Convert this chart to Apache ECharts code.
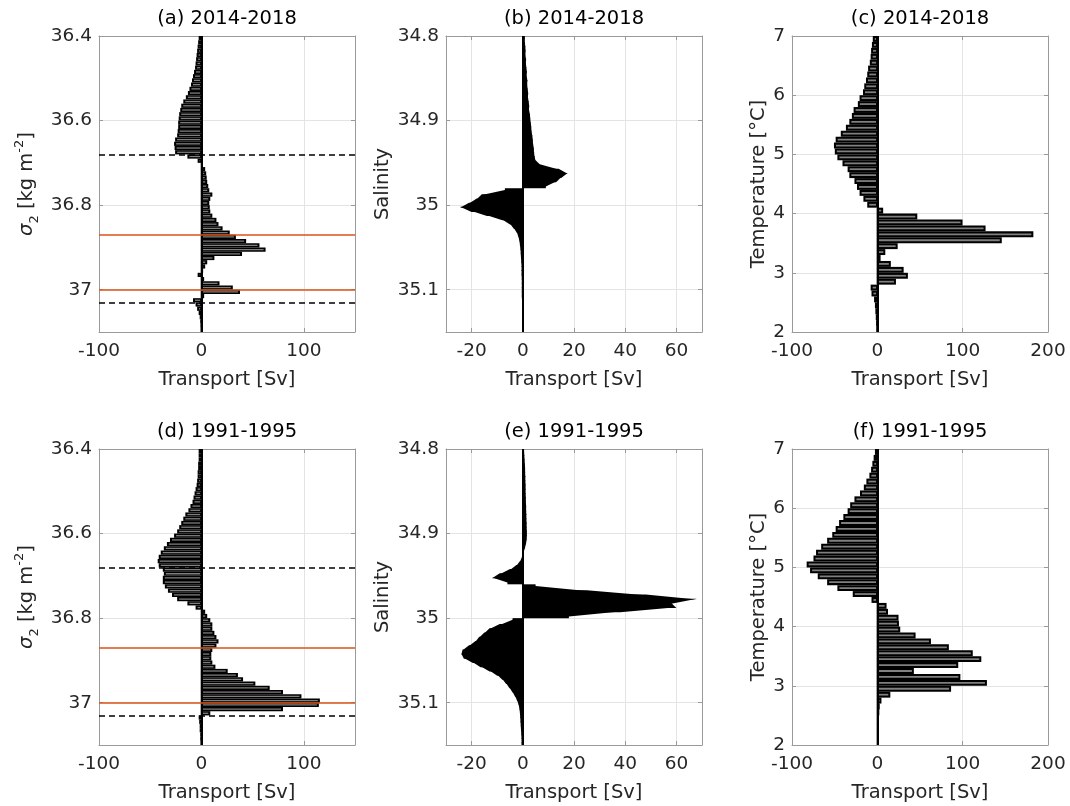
<!DOCTYPE html>
<html>
<head>
<meta charset="utf-8">
<script src="https://cdn.jsdelivr.net/npm/echarts@6.0.0/dist/echarts.min.js"></script>
<style>
html, body { margin: 0; padding: 0; background: #fff; }
#main { width: 1070px; height: 806px; }
</style>
</head>
<body>
<div id="main"></div>
<script>
"use strict";
// histogram bins: sigma2 0.01 from 36.4 (down), salinity 0.005 from 34.8 (down), temperature 0.1 from 7 (down)
const sigmaStart = 36.4, sigmaStep = 0.01;
const salStart = 34.8, salStep = 0.005;
const tempTop = 7, tempStep = 0.1;

// transport per bin [Sv], top of the axis first
const sigmaA = [-2, -2.5, -3, -3.5, -4, -4.5, -5, -5.5, -6.5, -7.5,
  -8.5, -9.5, -11, -12.5, -14.5, -17, -19, -20, -21, -21.5,
  -22, -22, -22.5, -23, -25, -26, -25.5, -25, -13, -3,
  0.5, 3, 4, 4.5, 5, 6, 7, 10, 8, 7,
  7.5, 8, 10, 14, 16, 20, 27, 33, 43, 56,
  62, 39, 12, 5, 3, 1, -3, 2, 17, 30,
  37, 2, -7.5, -5, -3.5, -2, -1, -0.5, -0.3, -0.2];
const sigmaD = [-2, -2, -2, -2.5, -2.5, -3, -3, -3.5, -4, -5,
  -6, -7, -8, -10, -12, -15, -17, -19, -21, -23,
  -26, -30, -33, -36, -39, -41, -42, -41, -37, -36,
  -37, -37, -35, -32, -28, -23, -13, -5, 3, 5,
  8, 10, 10, 12, 14, 16, 14, 10, 9, 9,
  10, 13, 25, 35, 40, 52, 66, 79, 97, 115,
  114, 79, 8, -2, -1.5, -1, -1, -0.5, -0.5, -0.3];
const salB = [0.8, 0.8, 1.0, 1.1, 1.0, 1.3, 1.2, 1.4, 1.6, 1.5,
  1.8, 1.7, 1.9, 2.1, 2.0, 2.3, 2.5, 2.4, 2.8, 2.9,
  3.1, 3.3, 3.4, 3.7, 3.9, 4.0, 4.3, 4.4, 4.6, 5.0,
  7, 14, 17.5, 15, 13, 9, -7, -16, -18, -21,
  -24.5, -20, -14, -8, -5, -3.5, -2.3, -1.7, -1.3, -1.1,
  -0.9, -0.8, -0.7, -0.6, -0.5, -0.5, -0.5, -0.4, -0.4, -0.4,
  -0.4, -0.4, -0.3, -0.3, -0.3, -0.3, -0.3, -0.3, -0.3, -0.3];
const salE = [0.5, 0.6, 0.7, 0.8, 0.9, 0.9, 1.0, 1.0, 1.1, 1.1,
  1.1, 1.2, 1.2, 1.3, 1.3, 1.4, 1.4, 1.5, 1.5, 1.6,
  1.6, 1.5, 1.2, 0.8, 0.3, -0.3, -1, -2.5, -5, -9,
  -12, -6, 5, 25, 48, 68, 58, 60, 38, 18,
  -4, -9, -13, -15, -17, -18.5, -21, -23.5, -24, -23,
  -19.5, -16.5, -13, -10, -8, -6.5, -5.2, -4, -3, -2.2,
  -1.6, -1.3, -1.1, -1.0, -0.9, -0.8, -0.7, -0.6, -0.5, -0.5];
const tempC = [-4.5, -5.5, -6.5, -7, -8, -10, -11, -12.5, -14.5, -16,
  -20, -22, -27, -29, -32, -36, -42, -48, -50, -49,
  -46, -40, -34, -32, -26, -23, -20, -15.5, -11, 6,
  46, 99, 126, 182, 145, 23, 8.5, 3, 15, 30,
  35, 21, -7, -6, -3, -2, -1.5, -1, -0.7, -0.5];
const tempF = [-2, -3.5, -5, -6.5, -8.5, -12, -15, -19.5, -26, -31,
  -34, -39, -44, -48, -52, -58, -65, -71, -74, -82,
  -78, -69, -58, -46, -28, -6, 10, 11.7, 24, 24.5,
  26, 44, 62, 83, 111, 121, 94, 42, 96.5, 127.6,
  85.6, 14.4, 4, 2, 1.5, 1, 1, 1, 1, 1];

const sigmaTicks = [36.4, 36.6, 36.8, 37];
const salTicks = [34.8, 34.9, 35, 35.1];
const tempTicks = [2, 3, 4, 5, 6, 7];
const sigmaXTicks = [-100, 0, 100];
const salXTicks = [-20, 0, 20, 40, 60];
const tempXTicks = [-100, 0, 100, 200];
const dashedLevels = [36.68, 37.03];
const orangeLevels = [36.87, 37.0];
const titles = ['(a) 2014-2018', '(b) 2014-2018', '(c) 2014-2018',
  '(d) 1991-1995', '(e) 1991-1995', '(f) 1991-1995'];

const FONT = "'DejaVu Sans', sans-serif";
const TXT = '#262626';
const BOX = '#9a9a9a';
const GRIDC = '#e4e4e4';

const kinds = {
  sigma: {
    yMin: 36.4, yMax: 37.1, inverse: true, yTicks: sigmaTicks,
    xMin: -100, xMax: 150, xTicks: sigmaXTicks, hatched: true,
    yName: '{i|σ}{sub|2}{n| [kg m}{sup|-2}{n|]}', nameGap: 58
  },
  sal: {
    yMin: 34.8, yMax: 35.15, inverse: true, yTicks: salTicks,
    xMin: -30, xMax: 70, xTicks: salXTicks, hatched: false,
    yName: 'Salinity', nameGap: 53
  },
  temp: {
    yMin: 2, yMax: 7, inverse: false, yTicks: tempTicks,
    xMin: -100, xMax: 200, xTicks: tempXTicks, hatched: true,
    yName: 'Temperature [°C]', nameGap: 20
  }
};

// one item per bin: [transport, lower edge, upper edge]
function binsDown(values, start, step) {
  return values.map((v, i) => [v, +(start + i * step).toFixed(4), +(start + (i + 1) * step).toFixed(4)]);
}
function binsFromTop(values, top, step) {
  return values.map((v, i) => [v, +(top - (i + 1) * step).toFixed(4), +(top - i * step).toFixed(4)]);
}
// fine salinity bins drawn as a filled outline: one piece between neighbouring bin centres
function outlinePieces(values, start, step) {
  const knots = [[values[0], start]];
  values.forEach((v, i) => knots.push([v, start + (i + 0.5) * step]));
  knots.push([values[values.length - 1], start + values.length * step]);
  const pieces = [];
  for (let i = 0; i < knots.length - 1; i++) {
    pieces.push([knots[i][0], +knots[i][1].toFixed(5), knots[i + 1][0], +knots[i + 1][1].toFixed(5)]);
  }
  return pieces;
}

const panels = [
  { kind: 'sigma', col: 0, row: 0, data: binsDown(sigmaA, sigmaStart, sigmaStep) },
  { kind: 'sal', col: 1, row: 0, data: outlinePieces(salB, salStart, salStep) },
  { kind: 'temp', col: 2, row: 0, data: binsFromTop(tempC, tempTop, tempStep) },
  { kind: 'sigma', col: 0, row: 1, data: binsDown(sigmaD, sigmaStart, sigmaStep) },
  { kind: 'sal', col: 1, row: 1, data: outlinePieces(salE, salStart, salStep) },
  { kind: 'temp', col: 2, row: 1, data: binsFromTop(tempF, tempTop, tempStep) }
];

const colLeft = [99, 446, 792];
const rowTop = [36, 449];
const plotW = 256, plotH = 296;

function fmt(v) { return String(+v.toFixed(2)); }

// MATLAB-like barh: black edge, thin grey face
function renderBar(params, api) {
  const v = api.value(0);
  const p0 = api.coord([0, api.value(1)]);
  const p1 = api.coord([v, api.value(2)]);
  const x = Math.min(p0[0], p1[0]);
  const y = Math.min(p0[1], p1[1]);
  const w = Math.abs(p1[0] - p0[0]);
  const h = Math.abs(p1[1] - p0[1]);
  const children = [{ type: 'rect', shape: { x: x - 0.7, y: y, width: w + 1.4, height: h }, style: { fill: '#000' } }];
  if (w > 3) {
    const ih = h * 0.3;
    children.push({ type: 'rect', shape: { x: x + 1.3, y: y + (h - ih) / 2, width: w - 2.6, height: ih }, style: { fill: '#808080' } });
  }
  return { type: 'group', children: children };
}

function renderFill(params, api) {
  const va = api.value(0), ya = api.value(1), vb = api.value(2), yb = api.value(3);
  const a0 = api.coord([0, ya]), a1 = api.coord([va, ya]);
  const b0 = api.coord([0, yb]), b1 = api.coord([vb, yb]);
  const pad = 0.4;
  if (va * vb < 0) {
    const m = api.coord([0, (ya + yb) / 2]);
    return {
      type: 'group', children: [
        { type: 'polygon', shape: { points: [[a0[0], a0[1] - pad], [a1[0], a1[1] - pad], [a1[0], m[1]], [m[0], m[1]]] }, style: { fill: '#000' } },
        { type: 'polygon', shape: { points: [[m[0], m[1]], [b1[0], m[1]], [b1[0], b1[1] + pad], [b0[0], b0[1] + pad]] }, style: { fill: '#000' } }
      ]
    };
  }
  return {
    type: 'polygon',
    shape: { points: [[a0[0], a0[1] - pad], [a1[0], a1[1] - pad], [b1[0], b1[1] + pad], [b0[0], b0[1] + pad]] },
    style: { fill: '#000' }
  };
}

const grid = [], xAxis = [], yAxis = [], series = [];
const tickLabel = { fontFamily: FONT, fontSize: 18.5, color: TXT };
const nameStyle = { fontFamily: FONT, fontSize: 19.5, color: TXT };

panels.forEach((p, k) => {
  const c = kinds[p.kind];
  grid.push({ left: colLeft[p.col], top: rowTop[p.row], width: plotW, height: plotH });
  const line = { show: true, onZero: false, lineStyle: { color: BOX, width: 1 } };
  const tick = { inside: true, length: 4, lineStyle: { color: BOX } };
  // bottom x axis
  xAxis.push({
    gridIndex: k, type: 'value', position: 'bottom', min: c.xMin, max: c.xMax,
    axisLine: line, axisTick: Object.assign({ customValues: c.xTicks }, tick),
    axisLabel: Object.assign({ customValues: c.xTicks, margin: 10, formatter: fmt }, tickLabel),
    splitLine: { show: true, lineStyle: { color: GRIDC, width: 1 } },
    name: 'Transport [Sv]', nameLocation: 'middle', nameGap: 38, nameTextStyle: nameStyle
  });
  // top x axis (box side, carries the panel title)
  xAxis.push({
    gridIndex: k, type: 'value', position: 'top', min: c.xMin, max: c.xMax,
    axisLine: line, axisTick: Object.assign({ customValues: c.xTicks }, tick),
    axisLabel: { show: false }, splitLine: { show: false },
    name: titles[k], nameLocation: 'middle', nameGap: 7,
    nameTextStyle: { fontFamily: FONT, fontSize: 19.5, color: '#000' }
  });
  const yName = p.kind === 'sigma'
    ? Object.assign({}, nameStyle, {
        rich: {
          i: { fontFamily: FONT, fontSize: 19.5, fontStyle: 'italic', color: TXT, lineHeight: 28 },
          n: { fontFamily: FONT, fontSize: 19.5, color: TXT, lineHeight: 28 },
          sub: { fontFamily: FONT, fontSize: 13, color: TXT, lineHeight: 13, verticalAlign: 'bottom' },
          sup: { fontFamily: FONT, fontSize: 13, color: TXT, lineHeight: 13, verticalAlign: 'top' }
        }
      })
    : nameStyle;
  yAxis.push({
    gridIndex: k, type: 'value', position: 'left', min: c.yMin, max: c.yMax, inverse: c.inverse,
    axisLine: line, axisTick: Object.assign({ customValues: c.yTicks }, tick),
    axisLabel: Object.assign({ customValues: c.yTicks, margin: 7, formatter: fmt }, tickLabel),
    splitLine: { show: true, lineStyle: { color: GRIDC, width: 1 } },
    name: c.yName, nameLocation: 'middle', nameRotate: 90, nameGap: c.nameGap, nameTextStyle: yName
  });
  yAxis.push({
    gridIndex: k, type: 'value', position: 'right', min: c.yMin, max: c.yMax, inverse: c.inverse,
    axisLine: line, axisTick: Object.assign({ customValues: c.yTicks }, tick),
    axisLabel: { show: false }, splitLine: { show: false }
  });

  series.push({
    type: 'custom', xAxisIndex: 2 * k, yAxisIndex: 2 * k, clip: true,
    encode: c.hatched ? { x: 0, y: [1, 2] } : { x: [0, 2], y: [1, 3] },
    renderItem: c.hatched ? renderBar : renderFill,
    data: p.data, silent: true
  });

  const marks = [{ xAxis: 0, lineStyle: { color: '#000', width: 2, type: 'solid' } }];
  if (p.kind === 'sigma') {
    dashedLevels.forEach(v => marks.push({ yAxis: v, lineStyle: { color: '#000', width: 1.5, type: [6, 4] } }));
    orangeLevels.forEach(v => marks.push({ yAxis: v, lineStyle: { color: '#D95319', width: 1.5, type: 'solid' } }));
  }
  series.push({
    type: 'line', xAxisIndex: 2 * k, yAxisIndex: 2 * k, data: [], silent: true,
    markLine: { symbol: 'none', silent: true, label: { show: false }, animation: false, data: marks }
  });
});

let myChart = echarts.init(document.getElementById('main'), null, { renderer: 'canvas' });
myChart.setOption({
  animation: false,
  backgroundColor: '#fff',
  grid: grid,
  xAxis: xAxis,
  yAxis: yAxis,
  series: series
});
</script>
</body>
</html>
